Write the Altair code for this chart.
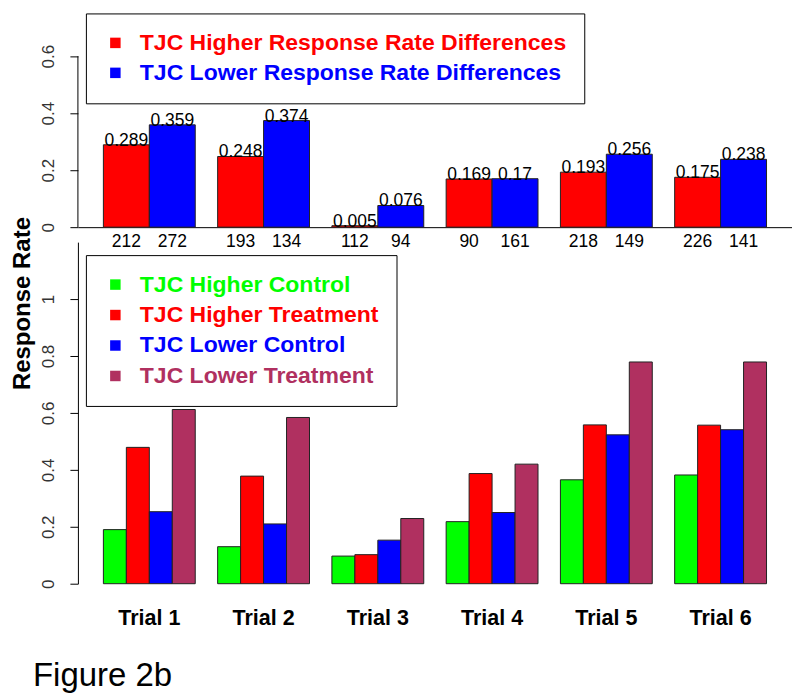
import altair as alt
import pandas as pd

FONT = "Liberation Sans"

trials = ["Trial 1", "Trial 2", "Trial 3", "Trial 4", "Trial 5", "Trial 6"]

diff_groups = ["TJC Higher Response Rate Differences", "TJC Lower Response Rate Differences"]
diff_colors = ["#FF0000", "#0000FF"]
diff_higher = [0.289, 0.248, 0.005, 0.169, 0.193, 0.175]
diff_lower = [0.359, 0.374, 0.076, 0.17, 0.256, 0.238]
n_higher = [212, 193, 112, 90, 218, 226]
n_lower = [272, 134, 94, 161, 149, 141]

rate_groups = ["TJC Higher Control", "TJC Higher Treatment", "TJC Lower Control", "TJC Lower Treatment"]
rate_colors = ["#00FF00", "#FF0000", "#0000FF", "#B03060"]
higher_control = [0.190, 0.130, 0.097, 0.218, 0.365, 0.382]
higher_treatment = [0.479, 0.378, 0.102, 0.387, 0.558, 0.557]
lower_control = [0.253, 0.210, 0.153, 0.250, 0.523, 0.541]
lower_treatment = [0.612, 0.584, 0.229, 0.420, 0.779, 0.779]

top_ticks = [0, 0.2, 0.4, 0.6]
bottom_ticks = [0, 0.2, 0.4, 0.6, 0.8, 1.0]

rows = []
for i, t in enumerate(trials):
    rows.append({"trial": t, "group": diff_groups[0], "value": diff_higher[i],
                 "label": str(diff_higher[i]), "n": str(n_higher[i])})
    rows.append({"trial": t, "group": diff_groups[1], "value": diff_lower[i],
                 "label": str(diff_lower[i]), "n": str(n_lower[i])})
df_top = pd.DataFrame(rows)

series = [higher_control, higher_treatment, lower_control, lower_treatment]
rows = []
for i, t in enumerate(trials):
    for g, s in zip(rate_groups, series):
        rows.append({"trial": t, "series": g, "value": s[i]})
df_bot = pd.DataFrame(rows)


def make_legend(x, y, names, colors, row_pad):
    expr = " : ".join(f"datum.value == '{n}' ? '{c}'" for n, c in zip(names, colors)) + " : 'black'"
    return alt.Legend(
        title=None, orient="none", legendX=x, legendY=y, direction="vertical",
        strokeColor="black", fillColor="white", padding=18,
        symbolType="square", symbolSize=110, symbolStrokeWidth=0,
        labelFontSize=23, labelFont=FONT, labelFontWeight="bold",
        labelColor=alt.ExprRef(expr), labelOffset=13, rowPadding=row_pad, labelLimit=800,
    )


xscale = alt.Scale(paddingInner=0.196, paddingOuter=0.223)

# ---------------- top panel ----------------
x_top = alt.X("trial:N", sort=trials, scale=xscale,
              axis=alt.Axis(labels=False, ticks=False, domain=True, domainColor="black",
                            title=None))
xo_top = alt.XOffset("group:N", sort=diff_groups, scale=alt.Scale(paddingInner=0, paddingOuter=0))
y_top = alt.Y("value:Q", scale=alt.Scale(domain=[0, 0.75], nice=False),
              axis=alt.Axis(values=top_ticks, format="~g", domain=False, grid=False,
                            tickSize=8, tickColor="black", labelAngle=270,
                            labelFontSize=17, labelFont=FONT, labelColor="#333",
                            labelPadding=12, title=None))

base_top = alt.Chart(df_top)
bars_top = base_top.mark_bar(stroke="#222", strokeWidth=1).encode(
    x=x_top, xOffset=xo_top, y=y_top,
    color=alt.Color("group:N", sort=diff_groups,
                    scale=alt.Scale(domain=diff_groups, range=diff_colors),
                    legend=make_legend(8, 0, diff_groups, diff_colors, 6)),
)
vals_top = base_top.mark_text(baseline="alphabetic", fontSize=17.5, font=FONT, color="black", dy=1).encode(
    x=x_top, xOffset=xo_top, y="value:Q", text="label:N")
counts_top = base_top.mark_text(baseline="top", fontSize=17.5, font=FONT, color="black", dy=6).encode(
    x=x_top, xOffset=xo_top, y=alt.datum(0), text="n:N")
axis_top = alt.Chart(pd.DataFrame({"lo": [top_ticks[0]], "hi": [top_ticks[-1]]})).mark_rule(
    color="black", strokeWidth=1).encode(x=alt.value(0), y="lo:Q", y2="hi:Q")

top = alt.layer(bars_top, vals_top, counts_top, axis_top).properties(width=715, height=214)

# ---------------- bottom panel ----------------
x_bot = alt.X("trial:N", sort=trials, scale=xscale,
              axis=alt.Axis(title=None, domain=False, ticks=False, tickSize=0,
                            labelFontSize=21.5, labelFontWeight="bold", labelFont=FONT,
                            labelColor="black", labelPadding=24, labelAngle=0))
xo_bot = alt.XOffset("series:N", sort=rate_groups, scale=alt.Scale(paddingInner=0, paddingOuter=0))
y_bot = alt.Y("value:Q", scale=alt.Scale(domain=[0, 1.2], nice=False),
              axis=alt.Axis(values=bottom_ticks, format="~g", domain=True, domainColor="black",
                            grid=False, tickSize=8, tickColor="black", labelAngle=270,
                            labelFontSize=17, labelFont=FONT, labelColor="#333",
                            labelPadding=12,
                            title="Response Rate", titleFontSize=24, titleFontWeight="bold",
                            titleFont=FONT, titleColor="black", titleAngle=270,
                            titleAlign="center", titleBaseline="bottom",
                            titleX=-43, titleY=61))

bottom = alt.Chart(df_bot).mark_bar(stroke="#222", strokeWidth=1).encode(
    x=x_bot, xOffset=xo_bot, y=y_bot,
    color=alt.Color("series:N", sort=rate_groups,
                    scale=alt.Scale(domain=rate_groups, range=rate_colors),
                    legend=make_legend(8, 13, rate_groups, rate_colors, 6.5)),
).properties(width=715, height=342)

chart = alt.vconcat(top, bottom, spacing=15, bounds="flush").resolve_scale(
    color="independent", y="independent", xOffset="independent"
).properties(
    title=alt.Title("Figure 2b", orient="bottom", anchor="start", fontSize=33, font=FONT,
                    fontWeight="normal", color="black", offset=31, dx=22),
    padding={"left": 3, "top": 4, "right": 0, "bottom": 0},
).configure_view(stroke=None).configure_axis(grid=False)

chart.save("out.html", embed_options={"renderer": "svg", "actions": False})
